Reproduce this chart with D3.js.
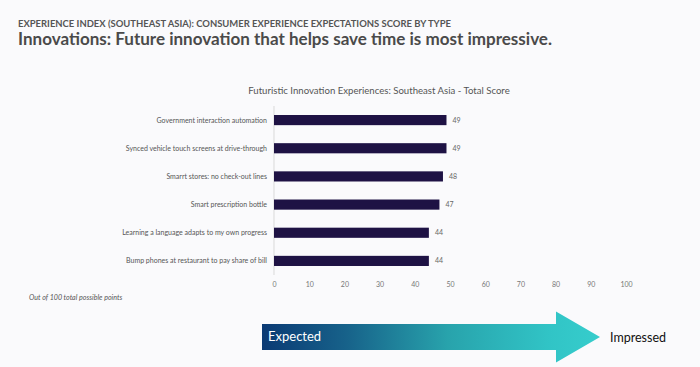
<!DOCTYPE html>
<html><head><meta charset="utf-8">
<script src="https://cdn.jsdelivr.net/npm/d3@7"></script>
<style>body{margin:0;background:#fafafc;}svg{display:block;}</style>
</head><body>
<script>
const categories = ["Government interaction automation","Synced vehicle touch screens at drive-through","Smarrt stores: no check-out lines","Smart prescription bottle","Learning a language adapts to my own progress","Bump phones at restaurant to pay share of bill"];
const values = [49,49,48,47,44,44];
const ticks = [0,10,20,30,40,50,60,70,80,90,100];

const W=700,H=367;
const svg=d3.select("body").append("svg").attr("width",W).attr("height",H);
svg.append("rect").attr("width",W).attr("height",H).attr("fill","#fafafc");
const font="Lato, 'Open Sans', sans-serif";

svg.append("text").attr("x",18).attr("y",27).attr("font-family",font).attr("font-size",9.5).attr("font-weight",700).attr("fill","#555")
 .attr("textLength",433).attr("lengthAdjust","spacingAndGlyphs").text("EXPERIENCE INDEX (SOUTHEAST ASIA): CONSUMER EXPERIENCE EXPECTATIONS SCORE BY TYPE");
svg.append("text").attr("x",18).attr("y",45).attr("font-family",font).attr("font-size",16.5).attr("font-weight",700).attr("fill","#4a4a4a")
 .attr("textLength",534).attr("lengthAdjust","spacingAndGlyphs").text("Innovations: Future innovation that helps save time is most impressive.");

svg.append("text").attr("x",379).attr("y",94).attr("text-anchor","middle").attr("font-family",font).attr("font-size",9.6).attr("fill","#555").text("Futuristic Innovation Experiences: Southeast Asia - Total Score");

const x=d3.scaleLinear().domain([0,100]).range([274,626]);
const y=d3.scaleBand().domain(categories).range([106,275]).paddingInner(0.64).paddingOuter(0.32);

svg.append("line").attr("x1",x(0)).attr("x2",x(0)).attr("y1",106).attr("y2",275).attr("stroke","#d9d9d9").attr("stroke-width",1);

svg.selectAll("rect.bar").data(values).enter().append("rect").attr("class","bar")
 .attr("x",x(0)).attr("y",(d,i)=>y(categories[i])).attr("width",d=>x(d)-x(0)).attr("height",y.bandwidth()).attr("fill","#1e1244");

svg.selectAll("text.val").data(values).enter().append("text").attr("class","val")
 .attr("x",d=>x(d)+6).attr("y",(d,i)=>y(categories[i])+y.bandwidth()/2).attr("dy","0.35em")
 .attr("font-family",font).attr("font-size",7).attr("fill","#666").text(d=>d);

svg.selectAll("text.cat").data(categories).enter().append("text").attr("class","cat")
 .attr("x",267).attr("y",d=>y(d)+y.bandwidth()/2).attr("dy","0.35em").attr("text-anchor","end")
 .attr("font-family",font).attr("font-size",7).attr("fill","#555").text(d=>d);

const ax=svg.append("g").attr("transform","translate(0,275)").call(d3.axisBottom(x).tickValues(ticks).tickSize(0).tickPadding(7));
ax.select(".domain").remove();
ax.selectAll("text").attr("font-family",font).attr("font-size",7).attr("fill","#777");

svg.append("text").attr("x",29).attr("y",300).attr("font-family",font).attr("font-size",7.1).attr("font-style","italic").attr("fill","#555").text("Out of 100 total possible points");

const defs=svg.append("defs");
const g=defs.append("linearGradient").attr("id","grad").attr("gradientUnits","userSpaceOnUse").attr("x1",262).attr("x2",600).attr("y1",0).attr("y2",0);
g.append("stop").attr("offset","0").attr("stop-color","#0b3a74");
g.append("stop").attr("offset","0.25").attr("stop-color","#17628a");
g.append("stop").attr("offset","0.55").attr("stop-color","#28a3ac");
g.append("stop").attr("offset","0.85").attr("stop-color","#31c4c6");
g.append("stop").attr("offset","1").attr("stop-color","#36cdcc");
const ay=337;
svg.append("path").attr("d",`M262,${ay-13}L556,${ay-13}L556,${ay-25.5}L600,${ay}L556,${ay+25.5}L556,${ay+13}L262,${ay+13}Z`).attr("fill","url(#grad)");
svg.append("text").attr("x",268).attr("y",ay-1).attr("dy","0.35em").attr("font-family",font).attr("font-size",13).attr("fill","#fff").text("Expected");
svg.append("text").attr("x",610).attr("y",ay+1).attr("dy","0.35em").attr("font-family",font).attr("font-size",12.5).attr("fill","#111").text("Impressed");
</script>
</body></html>
